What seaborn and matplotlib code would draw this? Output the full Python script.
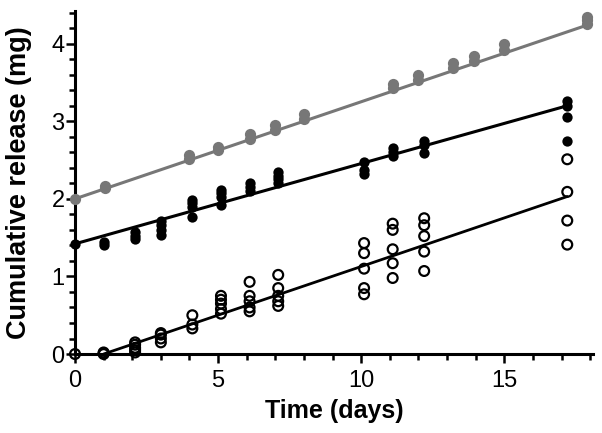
import numpy as np
import pandas as pd
import seaborn as sns
import matplotlib.pyplot as plt
from matplotlib.ticker import MultipleLocator

# Values
gray_days = [0, 1.05, 4, 5, 6.1, 7, 8, 11.1, 12, 13.2, 13.95, 15, 17.9]
gray_vals = [[2.0], [2.14, 2.16], [2.51, 2.56], [2.63, 2.67], [2.77, 2.83],
             [2.89, 2.95], [3.03, 3.09], [3.43, 3.48], [3.53, 3.59],
             [3.69, 3.75], [3.78, 3.84], [3.92, 3.99], [4.25, 4.3, 4.34]]

black_days = [0, 1, 2.1, 3, 4.1, 5.1, 6.1, 7.1, 10.1, 11.1, 12.2, 17.2]
black_vals = [[1.42], [1.41, 1.44], [1.48, 1.52, 1.57], [1.54, 1.6, 1.66, 1.71],
              [1.77, 1.9, 1.95, 1.98], [1.92, 2.02, 2.08, 2.12], [2.1, 2.15, 2.2],
              [2.2, 2.25, 2.3, 2.35], [2.32, 2.37, 2.47], [2.55, 2.6, 2.65],
              [2.59, 2.7, 2.75], [2.74, 3.05, 3.2, 3.26]]

open_days = [0, 1, 2.1, 3, 4.1, 5.1, 6.1, 7.1, 10.1, 11.1, 12.2, 17.2]
open_vals = [[0.0], [0.0, 0.01, 0.02], [0.02, 0.05, 0.08, 0.12, 0.15],
             [0.15, 0.2, 0.25, 0.27], [0.33, 0.38, 0.5], [0.52, 0.58, 0.65, 0.7, 0.75],
             [0.55, 0.6, 0.68, 0.75, 0.93], [0.62, 0.68, 0.75, 0.85, 1.02],
             [0.77, 0.85, 1.1, 1.3, 1.43], [0.98, 1.17, 1.35, 1.6, 1.68],
             [1.07, 1.32, 1.52, 1.66, 1.75], [1.41, 1.72, 2.09, 2.51]]

# fitted lines (start / end points)
gray_fit_x, gray_fit_y = [0, 17.9], [2.0, 4.24]
black_fit_x, black_fit_y = [0, 17.2], [1.42, 3.2]
open_fit_x, open_fit_y = [1, 17.2], [0.0, 2.03]


def long_form(days, vals):
    rows = [(d, v) for d, vs in zip(days, vals) for v in vs]
    return pd.DataFrame(rows, columns=["day", "release"])


gray_df = long_form(gray_days, gray_vals)
black_df = long_form(black_days, black_vals)
open_df = long_form(open_days, open_vals)

sns.set_style("ticks", {"axes.edgecolor": "black", "text.color": "black",
                        "xtick.color": "black", "ytick.color": "black",
                        "axes.labelcolor": "black"})
plt.rcParams["font.family"] = ["Liberation Sans", "DejaVu Sans"]

fig = plt.figure(figsize=(6.02, 4.33), dpi=100)
ax = fig.add_axes([0.1246, 0.1824, 0.8605, 0.792])

gray = "#777777"
sns.scatterplot(data=gray_df, x="day", y="release", ax=ax, color=gray,
                edgecolor=gray, s=65, linewidth=0, clip_on=False, zorder=3)
sns.scatterplot(data=black_df, x="day", y="release", ax=ax, color="black",
                edgecolor="black", s=55, linewidth=0, clip_on=False, zorder=3)
sns.scatterplot(data=open_df, x="day", y="release", ax=ax, color="black",
                facecolor="none", edgecolor="black", s=50, linewidth=1.6,
                clip_on=False, zorder=3)

sns.lineplot(x=gray_fit_x, y=gray_fit_y, ax=ax, color=gray, linewidth=2.2, zorder=2)
sns.lineplot(x=black_fit_x, y=black_fit_y, ax=ax, color="black", linewidth=2.2, zorder=2)
sns.lineplot(x=open_fit_x, y=open_fit_y, ax=ax, color="black", linewidth=2.0, zorder=2)

ax.set_xlim(0, 18.1)
ax.set_ylim(0, 4.42)
ax.xaxis.set_major_locator(MultipleLocator(5))
ax.xaxis.set_minor_locator(MultipleLocator(1))
ax.yaxis.set_major_locator(MultipleLocator(1))
ax.yaxis.set_minor_locator(MultipleLocator(0.2))

sns.despine(ax=ax)
for side in ["left", "bottom"]:
    ax.spines[side].set_linewidth(2.2)
    ax.spines[side].set_color("black")
ax.tick_params(which="major", length=6.5, width=1.8, labelsize=17,
               color="black", labelcolor="black")
ax.tick_params(which="minor", length=4, width=1.8, color="black")
ax.tick_params(axis="x", which="major", pad=5)
ax.tick_params(axis="y", which="major", pad=1)

ax.set_xlabel("Time (days)", fontsize=18, fontweight="bold", labelpad=5)
ax.set_ylabel("Cumulative release (mg)", fontsize=19.5, fontweight="bold", labelpad=14)

fig.savefig("out.png", dpi=100)
